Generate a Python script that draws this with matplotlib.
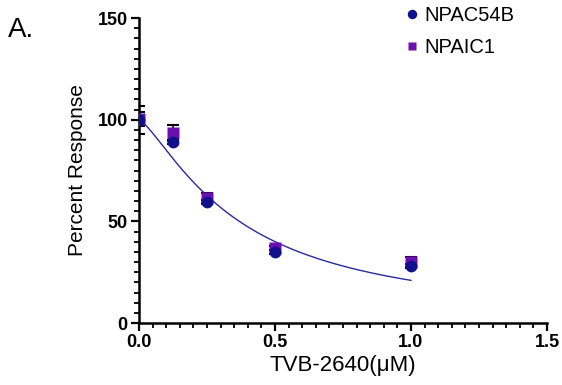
import matplotlib
matplotlib.use('Agg')
import matplotlib.pyplot as plt
import numpy as np
from matplotlib.ticker import MultipleLocator

plt.rcParams['font.family'] = ['Liberation Sans', 'DejaVu Sans']

# doses (uM) and responses
dose = [0.0, 0.125, 0.25, 0.5, 1.0]
npac54b = [100.0, 89.0, 59.5, 35.0, 28.0]
npac54b_err = [7.0, 1.0, 1.0, 1.0, 1.0]
npaic1 = [100.5, 93.5, 61.5, 37.0, 30.0]
npaic1_err = [3.5, 4.0, 2.7, 1.0, 2.4]

# fitted dose-response parameters (top, bottom, IC50, hill slope)
fit_top = 100.0
fit_bottom = 0.0
fit_ic50 = 0.369
fit_hill = 1.33

fig = plt.figure(figsize=(5.62, 3.85), dpi=100)
ax = fig.add_axes([0.2473, 0.161, 0.726, 0.792])

xf = np.linspace(0, 1.0, 200)
yf = fit_bottom + (fit_top - fit_bottom) / (1 + (xf / fit_ic50) ** fit_hill)
ax.plot(xf, yf, color='#2a2aa0', lw=1.0, zorder=2)

ax.errorbar(dose, npaic1, yerr=npaic1_err, fmt='none', ecolor='black',
            elinewidth=1.2, capsize=4, capthick=1.5, zorder=3)
ax.errorbar(dose, npac54b, yerr=npac54b_err, fmt='none', ecolor='black',
            elinewidth=1.2, capsize=4, capthick=1.5, zorder=3)
ax.plot(dose, npaic1, 's', color='#6c0fb0', ms=8, mec='none', zorder=4, label='NPAIC1')
ax.plot(dose, npac54b, 'o', color='#10108c', ms=8.5, mec='none', zorder=5, label='NPAC54B')

ax.set_xlim(0, 1.5)
ax.set_ylim(0, 150)
ax.xaxis.set_major_locator(MultipleLocator(0.5))
ax.xaxis.set_minor_locator(MultipleLocator(0.05))
ax.yaxis.set_major_locator(MultipleLocator(50))
ax.yaxis.set_minor_locator(MultipleLocator(5))
ax.xaxis.set_major_formatter(matplotlib.ticker.FormatStrFormatter('%.1f'))

for s in ['top', 'right']:
    ax.spines[s].set_visible(False)
for s in ['left', 'bottom']:
    ax.spines[s].set_linewidth(1.8)
ax.tick_params(which='major', length=6, width=1.6, labelsize=13, pad=2)
ax.tick_params(which='minor', length=3.5, width=1.3)
for lab in ax.get_xticklabels() + ax.get_yticklabels():
    lab.set_fontweight('bold')

ax.set_xlabel('TVB-2640(μM)', fontsize=16, labelpad=3)
ax.set_ylabel('Percent Response', fontsize=15, labelpad=8)

h, l = ax.get_legend_handles_labels()
ax.legend(h[::-1], l[::-1], loc='upper left', bbox_to_anchor=(402 / 562, 379 / 385),
          bbox_transform=fig.transFigure, frameon=False, fontsize=14.5,
          handletextpad=0.1, handlelength=1.0, labelspacing=0.65,
          borderpad=0, borderaxespad=0, markerscale=0.8)

fig.text(0.015, 0.905, 'A.', fontsize=20)

fig.savefig('out.png', dpi=100)
